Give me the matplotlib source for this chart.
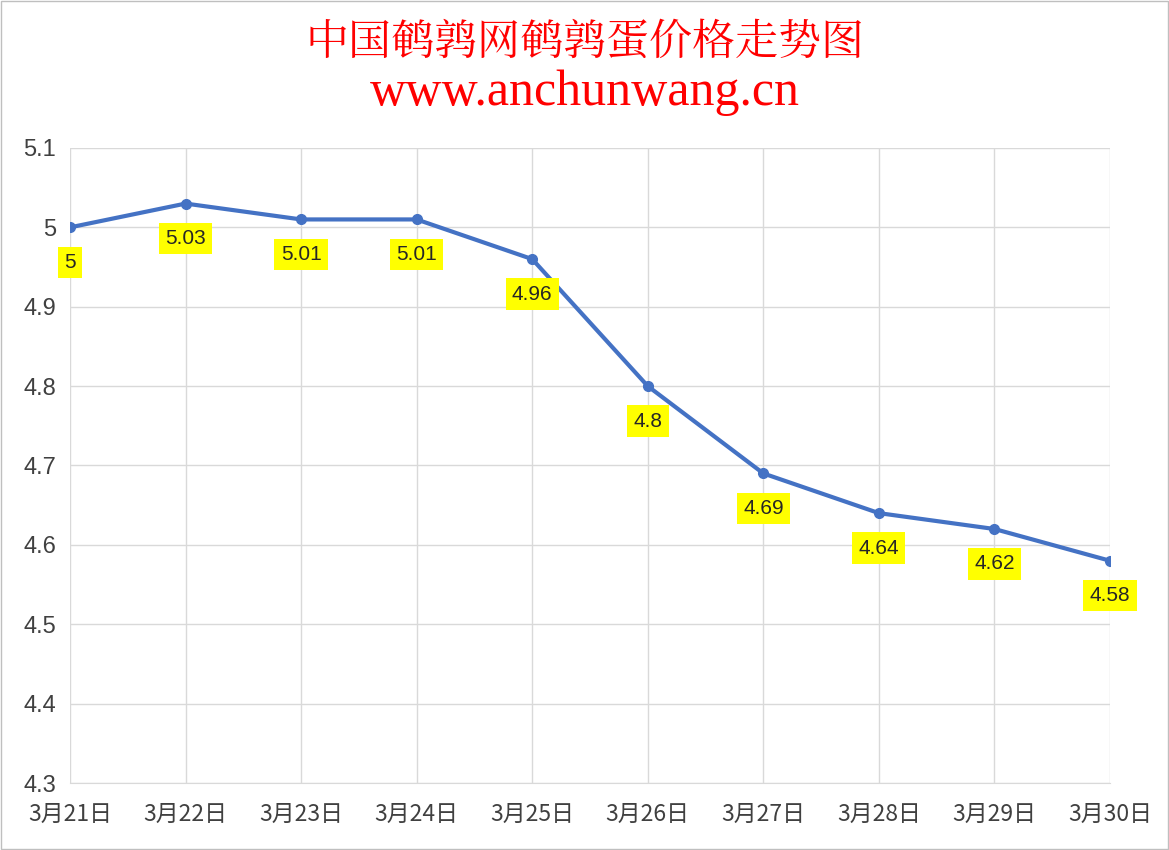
import matplotlib
matplotlib.use('Agg')
import matplotlib.pyplot as plt

dates = ['3月21日','3月22日','3月23日','3月24日','3月25日','3月26日','3月27日','3月28日','3月29日','3月30日']
prices = [5, 5.03, 5.01, 5.01, 4.96, 4.8, 4.69, 4.64, 4.62, 4.58]
labels = ['5','5.03','5.01','5.01','4.96','4.8','4.69','4.64','4.62','4.58']
yticks = [4.3,4.4,4.5,4.6,4.7,4.8,4.9,5.0,5.1]
yticklabels = ['4.3','4.4','4.5','4.6','4.7','4.8','4.9','5','5.1']

plt.rcParams['font.family'] = ['Noto Sans CJK SC', 'DejaVu Sans']
fig = plt.figure(figsize=(11.69, 8.5), dpi=100)
ax = fig.add_axes([70/1169, 1-783/850, 1040/1169, 635/850])
x = list(range(len(dates)))
ax.plot(x, prices, color='#4472C4', lw=3, marker='o', ms=7, zorder=3)
for xi, yi, lb in zip(x, prices, labels):
    ax.annotate(lb, (xi, yi), xytext=(0, -32), textcoords='offset points', ha='center', va='bottom',
                fontsize=15, color='#262626', family=['Liberation Sans', 'DejaVu Sans'],
                bbox=dict(boxstyle='square,pad=0.3', fc='#FFFF00', ec='none'), zorder=4)
ax.set_xlim(0, 9)
ax.set_ylim(4.3, 5.1)
ax.set_xticks(x)
ax.set_xticklabels(dates, fontsize=16.5, color='#404040')
ax.set_yticks(yticks)
ax.set_yticklabels(yticklabels, fontsize=17, color='#404040', family=['Liberation Sans', 'DejaVu Sans'])
ax.grid(True, color='#D9D9D9', lw=1)
ax.set_axisbelow(True)
for s in ['top', 'right']:
    ax.spines[s].set_visible(False)
ax.spines['left'].set_visible(False)
ax.spines['bottom'].set_color('#D9D9D9')
ax.tick_params(axis='x', length=0, pad=14)
ax.tick_params(axis='y', length=0, pad=10)
fig.text(0.5, 1-43/850, '中国鹌鹑网鹌鹑蛋价格走势图', ha='center', va='center', color='#FF0000', fontsize=31,
         family=['Noto Serif CJK SC', 'Noto Sans CJK SC'])
fig.text(0.5, 1-93/850, 'www.anchunwang.cn', ha='center', va='center', color='#FF0000', fontsize=36,
         family=['Liberation Serif', 'DejaVu Serif'])
fig.patches.append(plt.Rectangle((0.001, 0.001), 0.998, 0.998, transform=fig.transFigure, fill=False, ec='#BFBFBF', lw=1))
fig.savefig('out.png', dpi=100)
